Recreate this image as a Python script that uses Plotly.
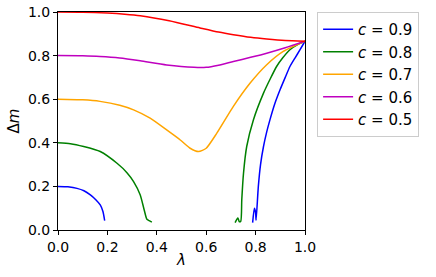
import plotly.graph_objects as go

# c = 0.9 (two branches, separated by None)
lam_c09 = [0.0, 0.04, 0.077, 0.105, 0.131, 0.152, 0.171, 0.182, 0.189, None,
           0.788, 0.795, 0.800, 0.802, 0.811, 0.820, 0.832, 0.845, 0.858, 0.878, 0.899, 0.92, 0.939, 0.96, 0.98, 1.0]
dm_c09 = [0.200, 0.198, 0.191, 0.180, 0.161, 0.140, 0.115, 0.085, 0.043, None,
          0.034, 0.100, 0.080, 0.045, 0.199, 0.300, 0.383, 0.450, 0.505, 0.580, 0.643, 0.700, 0.750, 0.790, 0.827, 0.866]

# c = 0.8
lam_c08 = [0.0, 0.05, 0.104, 0.171, 0.239, 0.28, 0.306, 0.333, 0.349, 0.36, 0.369, 0.38, None,
           0.717, 0.728, 0.734, 0.740, 0.744, 0.751, 0.764, 0.791, 0.832, 0.86, 0.885, 0.91, 0.939, 0.97, 1.0]
dm_c08 = [0.400, 0.396, 0.383, 0.360, 0.306, 0.262, 0.222, 0.161, 0.092, 0.049, 0.043, 0.036, None,
          0.034, 0.055, 0.038, 0.040, 0.138, 0.260, 0.383, 0.505, 0.628, 0.695, 0.750, 0.790, 0.827, 0.850, 0.866]

# c = 0.7
lam_c07 = [0.0, 0.1, 0.17, 0.25, 0.306, 0.373, 0.44, 0.495, 0.535, 0.569, 0.6, 0.643, 0.71, 0.778, 0.845, 0.912, 1.0]
dm_c07 = [0.600, 0.597, 0.590, 0.572, 0.551, 0.513, 0.459, 0.413, 0.375, 0.360, 0.375, 0.444, 0.567, 0.674, 0.758, 0.819, 0.866]

# c = 0.6
lam_c06 = [0.0, 0.1, 0.17, 0.25, 0.333, 0.44, 0.55, 0.6, 0.65, 0.71, 0.78, 0.845, 0.92, 1.0]
dm_c06 = [0.800, 0.799, 0.796, 0.789, 0.776, 0.757, 0.746, 0.746, 0.756, 0.773, 0.792, 0.811, 0.836, 0.866]

# c = 0.5
lam_c05 = [0.0, 0.1, 0.2, 0.27, 0.333, 0.45, 0.575, 0.65, 0.71, 0.78, 0.845, 0.92, 1.0]
dm_c05 = [1.000, 0.999, 0.995, 0.990, 0.983, 0.960, 0.927, 0.908, 0.896, 0.884, 0.876, 0.869, 0.866]

series = [
    ("<i>c</i> = 0.9", lam_c09, dm_c09, "blue"),
    ("<i>c</i> = 0.8", lam_c08, dm_c08, "green"),
    ("<i>c</i> = 0.7", lam_c07, dm_c07, "orange"),
    ("<i>c</i> = 0.6", lam_c06, dm_c06, "#bf00bf"),
    ("<i>c</i> = 0.5", lam_c05, dm_c05, "red"),
]

x_ticks = [0.0, 0.2, 0.4, 0.6, 0.8, 1.0]
y_ticks = [0.0, 0.2, 0.4, 0.6, 0.8, 1.0]

fig = go.Figure()
for name, xs, ys, col in series:
    fig.add_trace(go.Scatter(x=xs, y=ys, mode="lines", name=name,
                             line=dict(color=col, width=1.5, shape="spline", smoothing=0.6),
                             connectgaps=False))

axis_common = dict(showgrid=False, zeroline=False, showline=True, linecolor="black",
                   linewidth=1, mirror=True, ticks="outside", ticklen=4, tickwidth=1,
                   tickcolor="black", automargin=False,
                   tickfont=dict(family="DejaVu Sans", size=14, color="black"))

fig.update_layout(
    width=436, height=277,
    margin=dict(l=58, r=131, t=12, b=47),
    paper_bgcolor="white", plot_bgcolor="white",
    font=dict(family="DejaVu Sans", size=14, color="black"),
    xaxis=dict(range=[0, 1], tickvals=x_ticks, tickformat=".1f",
               title=dict(text="<i>λ</i>", standoff=0, font=dict(size=15)), **axis_common),
    yaxis=dict(range=[0, 1], tickvals=y_ticks, tickformat=".1f",
               title=dict(text="Δ<i>m</i>", standoff=4, font=dict(size=15)), **axis_common),
    legend=dict(x=1.049, y=1.0, xanchor="left", yanchor="top",
                bordercolor="#cccccc", borderwidth=1, bgcolor="white",
                font=dict(family="DejaVu Sans", size=15), tracegroupgap=0,
                itemwidth=30),
)

# remove the browser's default 8px body margin so the figure fills the window
fig.write_html("out.html", config={"displayModeBar": False},
               post_script="document.body.style.margin='0';")
